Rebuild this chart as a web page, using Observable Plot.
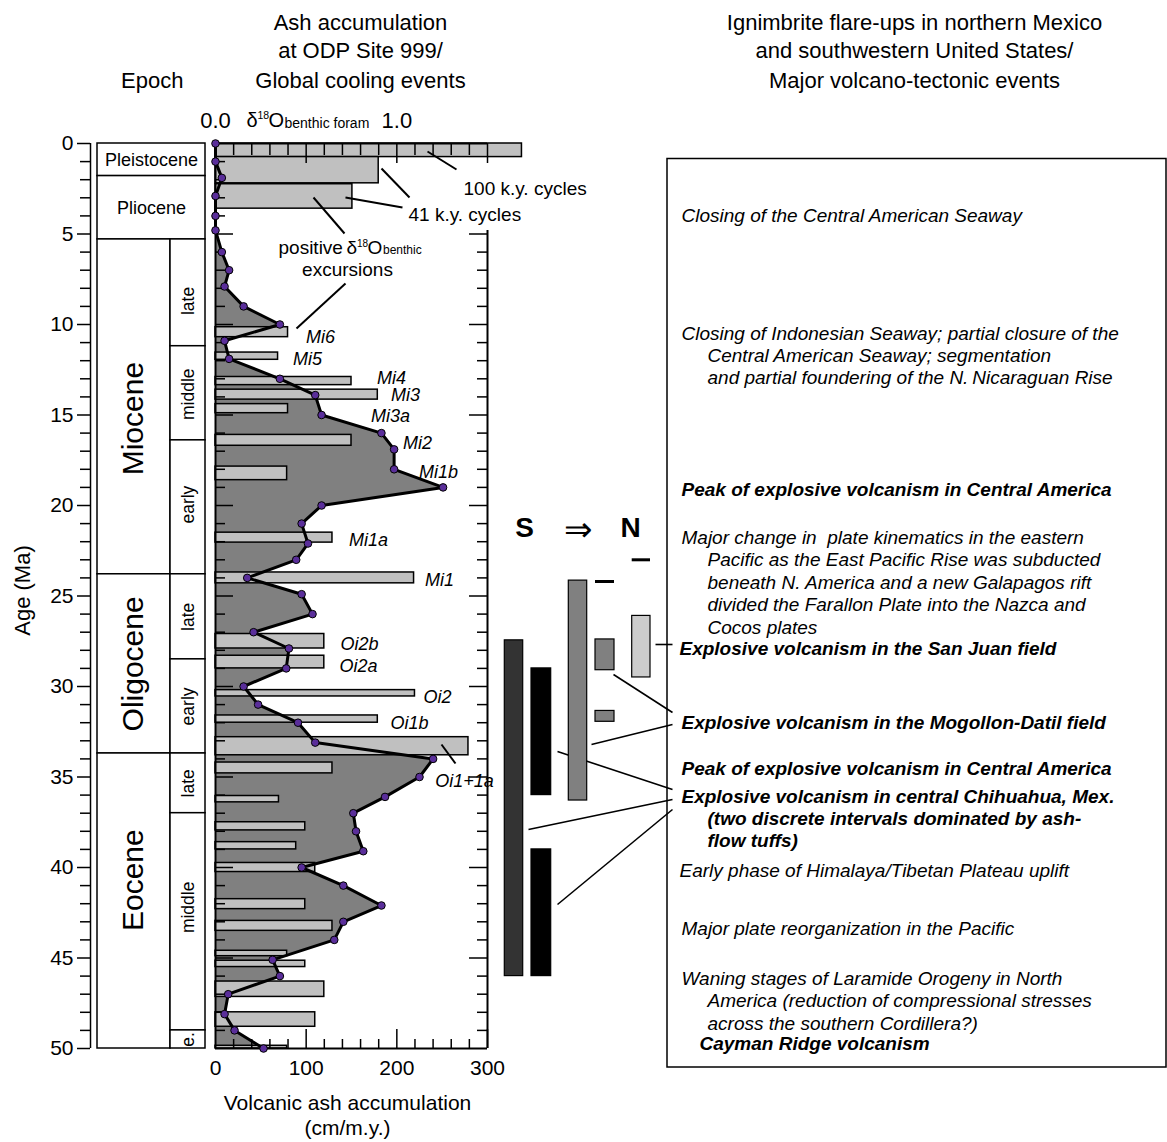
<!DOCTYPE html>
<html><head><meta charset="utf-8">
<script src="https://cdn.jsdelivr.net/npm/d3@7"></script>
<script src="https://cdn.jsdelivr.net/npm/@observablehq/plot@0.6"></script>
<style>html,body{margin:0;padding:0;background:#fff}#chart svg{display:block}</style>
</head><body><div id="chart"></div>
<script>
// ---------------- DATA ----------------
// Ash accumulation at ODP Site 999 (cm/m.y.) vs age (Ma)
const ashAge  = [0,1,1.9,2.9,4,4.8,6,7,7.9,9,10,10.9,11.9,13,13.9,15,16,16.9,18,19,20,21,22.1,23,24,24.9,26,27,27.9,29,30,31,32,33.1,34,35,36.1,37,38,39.1,40,41,42.1,43,44,45.1,46,47,48.1,49,50];
const ashRate = [0,0,7,0,0,0,7,15,10,31,71,10,15,71,110,117,183,197,197,251,117,95,102,89,35,95,107,42,81,78,31,47,91,110,240,225,187,152,155,163,95,141,183,141,131,63,71,14,10,21,53];

// positive d18O benthic excursions (bars, d18O units)
const excStart = [0,0.75,2.25,10.15,11.55,12.9,13.6,14.4,16.1,17.85,21.5,23.7,27.1,28.3,30.2,31.6,32.8,34.2,36.05,37.5,38.6,39.75,41.75,42.95,44.6,45.15,46.3,48.0,49.85];
const excEnd   = [0.75,2.2,3.6,10.7,11.95,13.35,14.15,14.9,16.7,18.6,22.05,24.3,27.9,29.0,30.55,32.0,33.8,34.8,36.4,37.95,39.0,40.25,42.3,43.5,44.9,45.5,47.15,48.8,50];
const excD18O  = [1.69,0.90,0.755,0.40,0.345,0.75,0.895,0.40,0.75,0.395,0.645,1.095,0.60,0.60,1.10,0.895,1.395,0.645,0.35,0.495,0.445,0.55,0.495,0.645,0.395,0.495,0.60,0.55,0.395];
const excLabels = ["Mi6","Mi5","Mi4","Mi3","Mi3a","Mi2","Mi1b","Mi1a","Mi1","Oi2b","Oi2a","Oi2","Oi1b","Oi1+1a"];

// Epochs
const epochName  = ["Pleistocene","Pliocene","Miocene","Oligocene","Eocene"];
const epochStart = [0,1.8,5.3,23.8,33.7];
const epochEnd   = [1.8,5.3,23.8,33.7,50];
const subName  = ["late","middle","early","late","early","late","middle","e."];
const subStart = [5.3,11.2,16.4,23.8,28.5,33.7,37.0,49.0];
const subEnd   = [11.2,16.4,23.8,28.5,33.7,37.0,49.0,50];

// Ignimbrite flare-ups (age ranges, S -> N columns)
const ignStart  = [27.45,29.0,39.0,24.15,27.4,31.35,26.1];
const ignEnd    = [46.0,36.0,46.0,36.3,29.1,31.95,29.5];
const ignColumn = [0,1,1,2,3,3,4];
const ignDashAge = [24.2,23.0];
const ignDashColumn = [3,4];

// Tick values
const ageTicks = d3.range(0,51);
const ageLabels = d3.range(0,51,5);
const ashTickLabels = [0,100,200,300];
const d18Ticks = d3.range(1,16).map(k => k/10);

// Texts
const headerLeft  = ["Ash accumulation","at ODP Site 999/","Global cooling events"];
const headerRight = ["Ignimbrite flare-ups in northern Mexico","and southwestern United States/","Major volcano-tectonic events"];
const events = [
  {lines:["Closing of the Central American Seaway"], bold:false},
  {lines:["Closing of Indonesian Seaway; partial closure of the","Central American Seaway; segmentation","and partial foundering of the N.\u2009Nicaraguan Rise"], bold:false},
  {lines:["Peak of explosive volcanism in Central America"], bold:true},
  {lines:["Major change in  plate kinematics in the eastern","Pacific as the East Pacific Rise was subducted","beneath N. America and a new Galapagos rift","divided the Farallon Plate into the Nazca and","Cocos plates"], bold:false},
  {lines:["Explosive volcanism in the San Juan field"], bold:true},
  {lines:["Explosive volcanism in the Mogollon-Datil field"], bold:true},
  {lines:["Peak of explosive volcanism in Central America"], bold:true},
  {lines:["Explosive volcanism in central Chihuahua, Mex.","(two discrete intervals dominated by ash-","flow tuffs)"], bold:true},
  {lines:["Early phase of Himalaya/Tibetan Plateau uplift"], bold:false},
  {lines:["Major plate reorganization in the Pacific"], bold:false},
  {lines:["Waning stages of Laramide Orogeny in North","America (reduction of compressional stresses","across the southern Cordillera?)"], bold:false},
  {lines:["Cayman Ridge volcanism"], bold:true}
];

// ---------------- LAYOUT ----------------
const W = 1167, H = 1142;
const X0 = 215, X1 = 487, Y0 = 143, Y1 = 1048;
const px = p => (p - X0) * 300 / (X1 - X0);   // pixel -> ash units (layout only)
const py = p => (p - Y0) * 50 / (Y1 - Y0);    // pixel -> age units (layout only)
const D18 = 200; // ash units per 1.0 permil on top axis
const FF = "'Liberation Sans', Arial, Helvetica, sans-serif";
const idx = n => d3.range(n);

const epochLabelAge = [0.9,3.55,15.2,28.75,40.7];
const subLabelAge = [8.7,13.85,19.95,26.15,31.1,35.35,42.2,49.5];
const excLabelPos = [[320,337],[307,359],[391,378],[405,395],[390,416],[417,443],[438,472],[368,540],[439,580],[359,644],[358,666],[437,697],[409,723],[464,781]];
const ignCols = [[504.3,522.7],[531,550.7],[568.3,586.7],[595,614],[631.7,650]];
const ignFill = ["#333333","#000000","#000000","#808080","#808080","#808080","#cccccc"];
const topLeaders = [[427,151,456,169],[381,168,409,197],[345,197,402,207],[344,233,313,197],[345,283,296,328],[441,744,455,763]];
const ignLeaders = [[655,644,672,644],[613,674,672,712],[591,744,672,724],[557,751,672,789],[528,829,672,799],[557,904,672,809]];
const eventY = [215,333,489.5,537.5,648.5,722.5,768.5,796,870.5,928.5,978.5,1043.5];
const eventX = [681,681,681,681,679,681,681,681,679,681,681,699];
const lineStep = 22.4;

const eventLines = [];
events.forEach((e, k) => e.lines.forEach((t, j) => eventLines.push({
  text: t, bold: e.bold, x: px(j === 0 ? eventX[k] : 707), y: py(eventY[k] + j * lineStep)
})));

const T = (data, o) => Plot.text(data, {fontFamily: FF, fill: "black", ...o});

const marks = [
  // epoch column
  Plot.rect(idx(5), {x1: px(97), x2: i => i < 2 ? px(205) : px(170), y1: i => epochStart[i], y2: i => epochEnd[i], fill: "white", stroke: "black", strokeWidth: 1.5}),
  Plot.rect(idx(8), {x1: px(170), x2: px(205), y1: i => subStart[i], y2: i => subEnd[i], fill: "white", stroke: "black", strokeWidth: 1.5}),
  T([0,1], {x: px(151), y: i => epochLabelAge[i], text: i => epochName[i], fontSize: 18}),
  T([2,3,4], {x: px(133), y: i => epochLabelAge[i], text: i => epochName[i], fontSize: 30, rotate: -90}),
  T(idx(8), {x: px(188), y: i => subLabelAge[i], text: i => subName[i], fontSize: 17.5, rotate: -90}),

  // outer age axis
  Plot.ruleX([px(90)], {y1: 0, y2: 50, stroke: "black", strokeWidth: 1.5}),
  Plot.ruleY(ageTicks, {y: d => d, x1: px(90), x2: d => d % 5 === 0 ? px(77) : px(80), stroke: "black", strokeWidth: 1.5}),
  T(ageLabels, {x: px(73), y: d => d, text: d => String(d), textAnchor: "end", fontSize: 21}),
  T(["Age (Ma)"], {x: px(22), y: py(590), text: d => d, rotate: -90, fontSize: 22}),

  // ash area
  Plot.areaX(idx(ashAge.length), {y: i => ashAge[i], x: i => ashRate[i], fill: "#808080"}),
  // d18O excursion bars
  Plot.rect(idx(excStart.length), {x1: 0, x2: i => excD18O[i] * D18, y1: i => excStart[i], y2: i => excEnd[i], fill: "#c0c0c0", stroke: "black", strokeWidth: 1.5}),

  // inner ticks
  Plot.ruleY(ageTicks.filter(d => d > 0 && d < 50), {y: d => d, x1: 0, x2: d => d % 5 === 0 ? px(233) : px(225), stroke: "black", strokeWidth: 1.5}),
  Plot.ruleY(ageTicks.filter(d => d >= 5 && d < 50), {y: d => d, x1: 300, x2: d => d % 5 === 0 ? px(469) : px(477), stroke: "black", strokeWidth: 1.5}),
  Plot.ruleX(d18Ticks, {x: d => d * D18, y1: 0, y2: d => Math.round(d * 10) % 5 === 0 ? py(163) : py(155), stroke: "black", strokeWidth: 1.5}),
  Plot.ruleX(d18Ticks.map(d => d * D18), {x: d => d, y1: 50, y2: d => Math.round(d) % 100 === 0 ? py(1029) : py(1039), stroke: "black", strokeWidth: 1.5}),

  // frame
  Plot.ruleX([0], {y1: 0, y2: 50, stroke: "black", strokeWidth: 2}),
  Plot.ruleX([300], {y1: 4.8, y2: 50, stroke: "black", strokeWidth: 2}),
  Plot.ruleY([0, 50], {x1: 0, x2: 300, stroke: "black", strokeWidth: 2}),

  // ash line + points
  Plot.line(idx(ashAge.length), {y: i => ashAge[i], x: i => ashRate[i], stroke: "black", strokeWidth: 3, strokeLinejoin: "round"}),
  Plot.dot(idx(ashAge.length), {y: i => ashAge[i], x: i => ashRate[i], r: 3.8, fill: "#5a2e9a", stroke: "black", strokeWidth: 1}),

  // excursion labels
  T(idx(excLabels.length), {x: i => px(excLabelPos[i][0]), y: i => py(excLabelPos[i][1]), text: i => excLabels[i], fontSize: 18, fontStyle: "italic"}),

  // top annotations
  Plot.link(topLeaders, {x1: d => px(d[0]), y1: d => py(d[1]), x2: d => px(d[2]), y2: d => py(d[3]), stroke: "black", strokeWidth: 2}),
  T(["100 k.y. cycles"], {x: px(463), y: py(188), text: d => d, textAnchor: "start", fontSize: 19}),
  T(["41 k.y. cycles"], {x: px(408), y: py(214), text: d => d, textAnchor: "start", fontSize: 19}),
  T(["positive"], {x: px(278), y: py(247), text: d => d, textAnchor: "start", fontSize: 19}),
  T(["\u03b4"], {x: px(346), y: py(247), text: d => d, textAnchor: "start", fontSize: 19}),
  T(["18"], {x: px(356.5), y: py(243), text: d => d, textAnchor: "start", fontSize: 10}),
  T(["O"], {x: px(367), y: py(247), text: d => d, textAnchor: "start", fontSize: 19}),
  T(["benthic"], {x: px(382.5), y: py(249.5), text: d => d, textAnchor: "start", fontSize: 12}),
  T(["excursions"], {x: px(347), y: py(269), text: d => d, fontSize: 19}),

  // top axis labels
  T(["0.0"], {x: 0, y: py(120), text: d => d, fontSize: 22}),
  T(["1.0"], {x: 1.0 * D18, y: py(120), text: d => d, fontSize: 22}),
  T(["\u03b4"], {x: px(246), y: py(120), text: d => d, textAnchor: "start", fontSize: 20}),
  T(["18"], {x: px(257), y: py(115.5), text: d => d, textAnchor: "start", fontSize: 10.5}),
  T(["O"], {x: px(268), y: py(120), text: d => d, textAnchor: "start", fontSize: 20}),
  T(["benthic foram"], {x: px(284), y: py(123), text: d => d, textAnchor: "start", fontSize: 14}),

  // bottom axis labels
  T(ashTickLabels, {x: d => d, y: py(1068), text: d => String(d), fontSize: 21}),
  T(["Volcanic ash accumulation", "(cm/m.y.)"], {x: px(347), y: (d, i) => py(1103 + 25 * i), text: d => d, fontSize: 21}),

  // headers
  T(["Epoch"], {x: px(151.7), y: py(80), text: d => d, fontSize: 22}),
  T(idx(3), {x: px(360), y: i => py([22,50,80][i]), text: i => headerLeft[i], fontSize: 22}),
  T(idx(3), {x: px(914), y: i => py([22,50,80][i]), text: i => headerRight[i], fontSize: 22}),

  // ignimbrite leaders (behind bars)
  Plot.link(ignLeaders, {x1: d => px(d[0]), y1: d => py(d[1]), x2: d => px(d[2]), y2: d => py(d[3]), stroke: "black", strokeWidth: 1.6}),
  Plot.rect(idx(ignStart.length), {x1: i => px(ignCols[ignColumn[i]][0]), x2: i => px(ignCols[ignColumn[i]][1]), y1: i => ignStart[i], y2: i => ignEnd[i], fill: i => ignFill[i], stroke: "black", strokeWidth: 1.2}),
  Plot.ruleY(idx(ignDashAge.length), {y: i => ignDashAge[i], x1: i => px(ignCols[ignDashColumn[i]][0]), x2: i => px(ignCols[ignDashColumn[i]][1]), stroke: "black", strokeWidth: 3}),
  T(["S"], {x: px(524), y: py(528), text: d => d, fontSize: 28, fontWeight: "bold"}),
  T(["\u21d2"], {x: px(577), y: py(530), text: d => d, fontSize: 34}),
  T(["N"], {x: px(630), y: py(528), text: d => d, fontSize: 28, fontWeight: "bold"}),

  // event box
  Plot.rect([0], {x1: px(667), x2: px(1166), y1: py(158.5), y2: py(1067), fill: "none", stroke: "black", strokeWidth: 1.5}),
  T(eventLines.filter(d => !d.bold), {x: "x", y: "y", text: "text", textAnchor: "start", fontSize: 19, fontStyle: "italic"}),
  T(eventLines.filter(d => d.bold), {x: "x", y: "y", text: "text", textAnchor: "start", fontSize: 19, fontStyle: "italic", fontWeight: "bold"})
];

const chart = Plot.plot({
  width: W, height: H,
  marginLeft: X0, marginRight: W - X1, marginTop: Y0, marginBottom: H - Y1,
  x: {domain: [0, 300], range: [X0, X1], axis: null},
  y: {domain: [0, 50], range: [Y0, Y1], axis: null},
  style: {background: "white", color: "black", fontFamily: FF, overflow: "visible"},
  marks
});
document.getElementById("chart").append(chart);
</script>
</body></html>
